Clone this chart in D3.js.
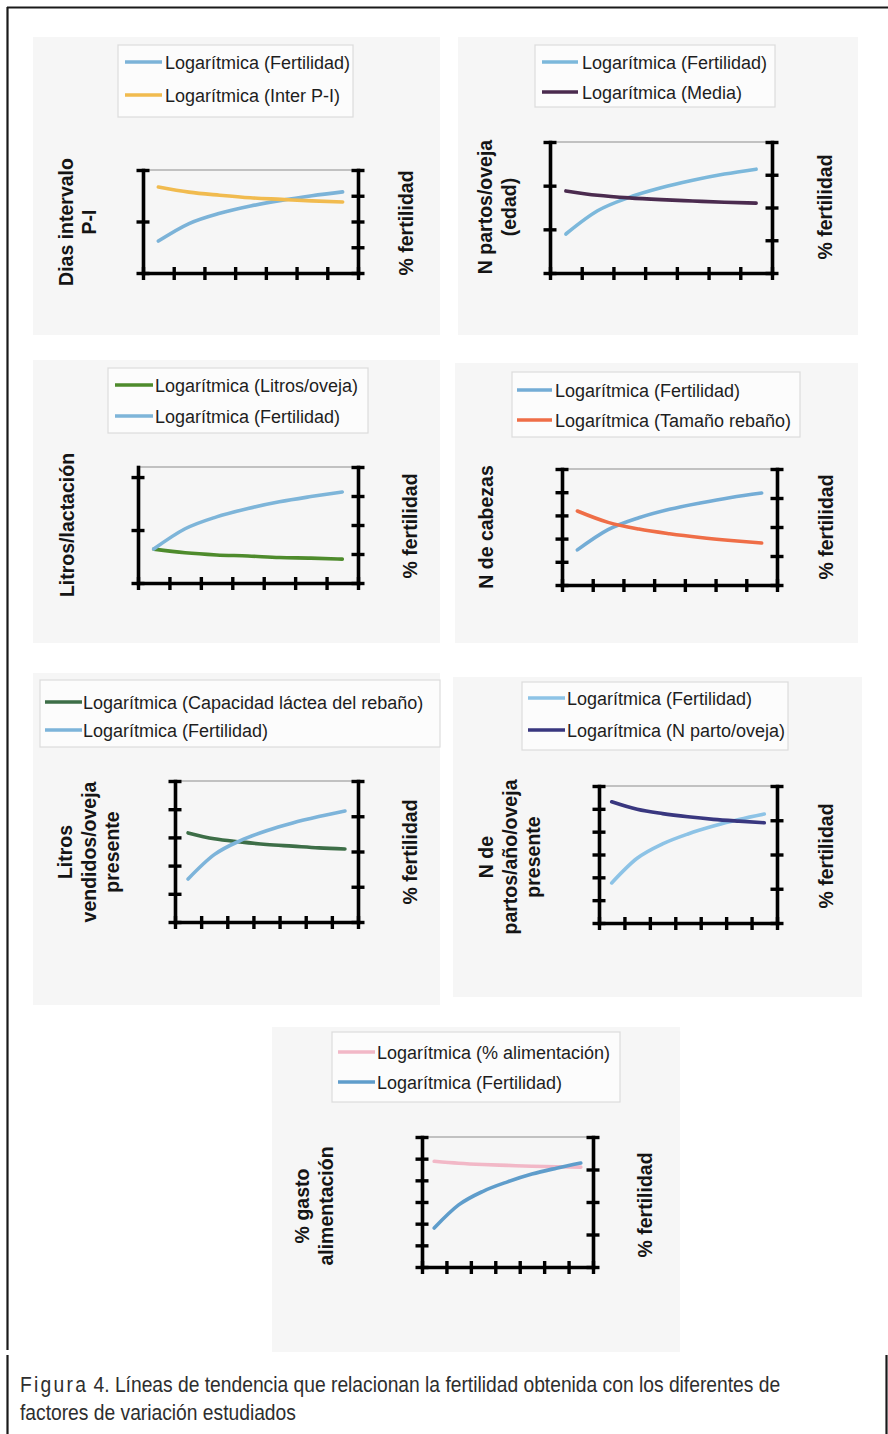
<!DOCTYPE html>
<html><head><meta charset="utf-8">
<script src="https://cdn.jsdelivr.net/npm/d3@7"></script>
<style>body{margin:0;background:#fff}svg{display:block}</style>
</head><body>
<script>
// ---------- DATA (units = tick intervals) ----------
const categories = [1, 2, 3, 4, 5, 6, 7];
const xTickIndex = [0, 1, 2, 3, 4, 5, 6, 7];
const rightTicks = [0, 1, 2, 3, 4];

// Panel 1: Dias intervalo P-I
const fertP1   = [1.24, 1.92, 2.32, 2.60, 2.82, 3.00, 3.15];
const interPI  = [1.67, 1.57, 1.51, 1.46, 1.43, 1.40, 1.38];
const leftTicksP1 = [0, 1, 2];
// Panel 2: N partos/oveja (edad)
const fertP2   = [1.19, 1.90, 2.31, 2.60, 2.83, 3.02, 3.17];
const media    = [1.88, 1.78, 1.72, 1.68, 1.65, 1.62, 1.60];
const leftTicksP2 = [0, 1, 2, 3];
// Panel 3: Litros/lactación
const litrosOveja = [0.64, 0.57, 0.53, 0.51, 0.48, 0.47, 0.45];
const fertP3   = [1.17, 1.87, 2.28, 2.57, 2.80, 2.98, 3.14];
const leftTicksP3 = [0, 1, 2];
const leftMaxP3 = 2.19;
// Panel 4: N de cabezas
const fertP4   = [1.21, 1.91, 2.32, 2.61, 2.83, 3.02, 3.17];
const tamano   = [3.19, 2.70, 2.41, 2.21, 2.05, 1.92, 1.81];
const leftTicksP4 = [0, 1, 2, 3, 4, 5];
// Panel 5: Litros vendidos/oveja presente
const capacidad = [3.16, 2.95, 2.84, 2.75, 2.69, 2.63, 2.59];
const fertP5   = [1.22, 1.91, 2.31, 2.59, 2.81, 2.99, 3.15];
const leftTicksP5 = [0, 1, 2, 3, 4, 5];
// Panel 6: N de partos/año/oveja presente
const fertP6   = [1.17, 1.89, 2.31, 2.60, 2.83, 3.02, 3.18];
const nParto   = [5.31, 4.98, 4.79, 4.65, 4.54, 4.46, 4.39];
const leftTicksP6 = [0, 1, 2, 3, 4, 5, 6];
// Panel 7: % gasto alimentación
const alimentacion = [4.88, 4.79, 4.73, 4.69, 4.65, 4.63, 4.61];
const fertP7   = [1.20, 1.91, 2.33, 2.62, 2.86, 3.04, 3.20];
const leftTicksP7 = [0, 1, 2, 3, 4, 5, 6];

const captionLine1a = "Figura";
const captionLine1b = " 4. Líneas de tendencia que relacionan la fertilidad obtenida con los diferentes de";
const captionLine2 = "factores de variación estudiados";

// ---------- PANELS (data bound to layout) ----------
const panels = [
  { bg:[33,37,407,298], legend:{x:118,y:45,w:235,h:72,l1:125,l2:162,tx:165,rows:[62,95]},
    plot:{l:143,r:358,t:170,b:273}, leftTicks:leftTicksP1, leftMax:2,
    titleL:{lines:["Dias intervalo","P-I"], xs:[73,96], cy:222}, titleR:{x:413, cy:223},
    series:[{label:"Logarítmica (Fertilidad)", values:fertP1, axis:"R", color:"#7cb3d8"},
            {label:"Logarítmica (Inter P-I)", values:interPI, axis:"L", color:"#f1bb4f"}]},
  { bg:[458,37,400,298], legend:{x:535,y:45,w:240,h:62,l1:542,l2:578,tx:582,rows:[62,92]},
    plot:{l:550,r:772,t:142,b:273}, leftTicks:leftTicksP2, leftMax:3,
    titleL:{lines:["N partos/oveja","(edad)"], xs:[492,516], cy:207}, titleR:{x:832, cy:207},
    series:[{label:"Logarítmica (Fertilidad)", values:fertP2, axis:"R", color:"#7cb8db"},
            {label:"Logarítmica (Media)", values:media, axis:"L", color:"#4b2b4f"}]},
  { bg:[33,360,407,283], legend:{x:108,y:368,w:260,h:65,l1:115,l2:153,tx:155,rows:[385,416]},
    plot:{l:138,r:358,t:467,b:583}, leftTicks:leftTicksP3, leftMax:leftMaxP3,
    titleL:{lines:["Litros/lactación"], xs:[74], cy:525}, titleR:{x:417, cy:526},
    series:[{label:"Logarítmica (Litros/oveja)", values:litrosOveja, axis:"L", color:"#4e8b2c"},
            {label:"Logarítmica (Fertilidad)", values:fertP3, axis:"R", color:"#7eb5d9"}]},
  { bg:[455,363,403,280], legend:{x:512,y:372,w:288,h:65,l1:517,l2:552,tx:555,rows:[390,420]},
    plot:{l:562,r:777,t:469,b:585}, leftTicks:leftTicksP4, leftMax:5,
    titleL:{lines:["N de cabezas"], xs:[493], cy:527}, titleR:{x:833, cy:527},
    series:[{label:"Logarítmica (Fertilidad)", values:fertP4, axis:"R", color:"#74add6"},
            {label:"Logarítmica (Tamaño rebaño)", values:tamano, axis:"L", color:"#ef6e47"}]},
  { bg:[33,673,407,332], legend:{x:40,y:680,w:400,h:67,l1:45,l2:82,tx:83,rows:[702,730]},
    plot:{l:175,r:358,t:781,b:922}, leftTicks:leftTicksP5, leftMax:5,
    titleL:{lines:["Litros","vendidos/oveja","presente"], xs:[72,96,119], cy:852}, titleR:{x:417, cy:852},
    series:[{label:"Logarítmica (Capacidad láctea del rebaño)", values:capacidad, axis:"L", color:"#3d6e47"},
            {label:"Logarítmica (Fertilidad)", values:fertP5, axis:"R", color:"#7db4da"}]},
  { bg:[453,677,409,320], legend:{x:522,y:682,w:266,h:68,l1:528,l2:565,tx:567,rows:[698,730]},
    plot:{l:599,r:777,t:786,b:923}, leftTicks:leftTicksP6, leftMax:6,
    titleL:{lines:["N de","partos/año/oveja","presente"], xs:[493,517,540], cy:857}, titleR:{x:833, cy:856},
    series:[{label:"Logarítmica (Fertilidad)", values:fertP6, axis:"R", color:"#8dc3e6"},
            {label:"Logarítmica (N parto/oveja)", values:nParto, axis:"L", color:"#39377f"}]},
  { bg:[272,1027,408,325], legend:{x:332,y:1032,w:288,h:70,l1:338,l2:375,tx:377,rows:[1052,1082]},
    plot:{l:422,r:593,t:1137,b:1267}, leftTicks:leftTicksP7, leftMax:6,
    titleL:{lines:["% gasto","alimentación"], xs:[309,333], cy:1206}, titleR:{x:652, cy:1205},
    series:[{label:"Logarítmica (% alimentación)", values:alimentacion, axis:"L", color:"#f2b8c7"},
            {label:"Logarítmica (Fertilidad)", values:fertP7, axis:"R", color:"#5f9dcb"}]}
];

const W = 888, H = 1434;
const svg = d3.select("body").append("svg").attr("width", W).attr("height", H);
svg.append("rect").attr("width", W).attr("height", H).attr("fill", "#fff");

const TITLE_FONT = "'Liberation Sans', Arial, sans-serif";

function styleAxis(g) {
  g.select(".domain").attr("stroke", "#000").attr("stroke-width", 3.6).attr("stroke-linecap", "square");
  g.selectAll(".tick line").attr("stroke", "#000").attr("stroke-width", 3.4);
}

panels.forEach(p => {
  const g = svg.append("g");
  g.append("rect").attr("x", p.bg[0]).attr("y", p.bg[1]).attr("width", p.bg[2]).attr("height", p.bg[3])
    .attr("fill", "#f6f6f6");

  // legend
  const L = p.legend;
  g.append("rect").attr("x", L.x).attr("y", L.y).attr("width", L.w).attr("height", L.h)
    .attr("fill", "#fcfcfc").attr("stroke", "#dcdcdc").attr("stroke-width", 1.2);
  p.series.forEach((s, i) => {
    g.append("line").attr("x1", L.l1).attr("x2", L.l2).attr("y1", L.rows[i]).attr("y2", L.rows[i])
      .attr("stroke", s.color).attr("stroke-width", 3.5);
    g.append("text").attr("x", L.tx).attr("y", L.rows[i] + 6.5)
      .attr("font-family", TITLE_FONT).attr("font-size", 18).attr("fill", "#1e1e1e").text(s.label);
  });

  const P = p.plot;
  const x = d3.scaleLinear().domain([0, categories.length]).range([P.l, P.r]);
  const yL = d3.scaleLinear().domain([0, p.leftMax]).range([P.b, P.t]);
  const yR = d3.scaleLinear().domain([0, rightTicks[rightTicks.length - 1]]).range([P.b, P.t]);

  // top plot-area border
  g.append("line").attr("x1", P.l).attr("x2", P.r).attr("y1", P.t).attr("y2", P.t)
    .attr("stroke", "#8c8c8c").attr("stroke-width", 1);

  // trend lines
  p.series.forEach(s => {
    const y = s.axis === "L" ? yL : yR;
    const line = d3.line().x((d, i) => x(categories[i] - 0.5)).y(d => y(d)).curve(d3.curveMonotoneX);
    g.append("path").datum(s.values).attr("d", line).attr("fill", "none")
      .attr("stroke", s.color).attr("stroke-width", 3.6).attr("stroke-linecap", "round");
  });

  // axes
  const gb = g.append("g").attr("transform", `translate(0,${P.b})`)
    .call(d3.axisBottom(x).tickValues(xTickIndex).tickSize(7).tickSizeOuter(0).tickFormat(""));
  styleAxis(gb); gb.selectAll(".tick line").attr("y1", -6);
  const gl = g.append("g").attr("transform", `translate(${P.l},0)`)
    .call(d3.axisLeft(yL).tickValues(p.leftTicks).tickSize(6.5).tickSizeOuter(0).tickFormat(""));
  styleAxis(gl); gl.selectAll(".tick line").attr("x1", 6.5);
  const gr = g.append("g").attr("transform", `translate(${P.r},0)`)
    .call(d3.axisRight(yR).tickValues(rightTicks).tickSize(6.5).tickSizeOuter(0).tickFormat(""));
  styleAxis(gr); gr.selectAll(".tick line").attr("x1", -6.5);

  // axis titles
  p.titleL.lines.forEach((t, i) => {
    g.append("text").attr("transform", `translate(${p.titleL.xs[i]},${p.titleL.cy}) rotate(-90)`)
      .attr("text-anchor", "middle").attr("font-family", TITLE_FONT).attr("font-weight", "bold")
      .attr("font-size", 19.5).attr("fill", "#151515").text(t);
  });
  g.append("text").attr("transform", `translate(${p.titleR.x},${p.titleR.cy}) rotate(-90)`)
    .attr("text-anchor", "middle").attr("font-family", TITLE_FONT).attr("font-weight", "bold")
    .attr("font-size", 19.5).attr("fill", "#151515").text("% fertilidad");
});

// frame
const frame = svg.append("g").attr("stroke", "#1a1a1a").attr("stroke-width", 2.2).attr("fill", "none");
frame.append("line").attr("x1", 7).attr("x2", 888).attr("y1", 7.5).attr("y2", 7.5);
frame.append("line").attr("x1", 7.5).attr("x2", 7.5).attr("y1", 7).attr("y2", 1350);
frame.append("line").attr("x1", 7.5).attr("x2", 7.5).attr("y1", 1355).attr("y2", 1434);
frame.append("line").attr("x1", 886.5).attr("x2", 886.5).attr("y1", 1355).attr("y2", 1434);

// caption (condensed look via horizontal scaling)
const CAP_FONT = "'Liberation Sans', Arial, sans-serif";
const cap = svg.append("g").attr("transform", "translate(20,0) scale(0.875,1)")
  .attr("font-family", CAP_FONT).attr("font-size", 22).attr("fill", "#2e2e2e");
const t1 = cap.append("text").attr("x", 0).attr("y", 1392);
t1.append("tspan").attr("letter-spacing", 2.6).text(captionLine1a);
t1.append("tspan").text(captionLine1b);
cap.append("text").attr("x", 0).attr("y", 1420).text(captionLine2);
</script>
</body></html>
